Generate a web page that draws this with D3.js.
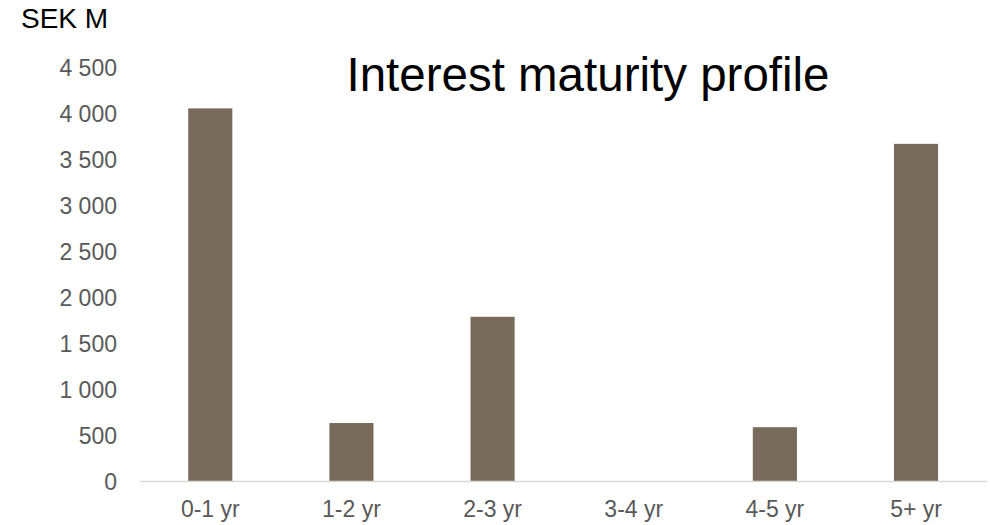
<!DOCTYPE html>
<html>
<head>
<meta charset="utf-8">
<script src="https://cdn.jsdelivr.net/npm/d3@7"></script>
<style>
  body { margin: 0; background: #fff; }
  svg text { font-family: "Liberation Sans", Arial, sans-serif; }
</style>
</head>
<body>
<script>
// chart data
var categories = ["0-1 yr", "1-2 yr", "2-3 yr", "3-4 yr", "4-5 yr", "5+ yr"];
var values = [4050, 630, 1785, 0, 585, 3665];
var yTicks = [0, 500, 1000, 1500, 2000, 2500, 3000, 3500, 4000, 4500];

var w = 990,
    h = 525;

// plot area
var plotLeft = 139.7,
    plotRight = 986.6,
    plotTop = 67,
    plotBottom = 481;

var svg = d3.select("body")
            .append("svg")
            .attr("width", w)
            .attr("height", h);

var xScale = d3.scaleBand()
               .domain(categories)
               .range([plotLeft, plotRight])
               .paddingInner(0.6875)
               .paddingOuter(0.34375);

var yScale = d3.scaleLinear()
               .domain([0, 4500])
               .range([plotBottom, plotTop]);

// space as thousands separator, like the original
var fmt = function(d) {
    return d3.format(",")(d).replace(/,/g, " ");
};

// y labels, no axis line
var yAxis = d3.axisLeft(yScale)
              .tickValues(yTicks)
              .tickSize(0)
              .tickPadding(0)
              .tickFormat(fmt);

var gy = svg.append("g")
            .attr("transform", "translate(117,0)")
            .call(yAxis);
gy.select(".domain").remove();
gy.selectAll("text")
  .attr("fill", "#595959")
  .style("font-size", "23px")
  .attr("dy", "0.35em");

// bars
svg.selectAll("rect.bar")
   .data(values)
   .enter()
   .append("rect")
   .attr("class", "bar")
   .attr("x", function(d, i) { return xScale(categories[i]); })
   .attr("y", function(d) { return yScale(d); })
   .attr("width", xScale.bandwidth())
   .attr("height", function(d) { return plotBottom - yScale(d); })
   .attr("fill", "#786b5b");

// x axis line and labels
var xAxis = d3.axisBottom(xScale)
              .tickSize(0)
              .tickPadding(0);

var gx = svg.append("g")
            .attr("transform", "translate(0," + plotBottom + ")")
            .call(xAxis);
gx.select(".domain")
  .attr("stroke", "#d9d9d9")
  .attr("stroke-width", 1.5);
gx.selectAll("text")
  .attr("fill", "#595959")
  .style("font-size", "23px")
  .attr("y", 36)
  .attr("dy", 0);

// unit label
svg.append("text")
   .attr("x", 21)
   .attr("y", 28)
   .style("font-size", "28px")
   .attr("fill", "#000")
   .text("SEK M");

// title
svg.append("text")
   .attr("x", 588)
   .attr("y", 91)
   .style("text-anchor", "middle")
   .style("font-size", "47.5px")
   .attr("fill", "#000")
   .text("Interest maturity profile");
</script>
</body>
</html>
